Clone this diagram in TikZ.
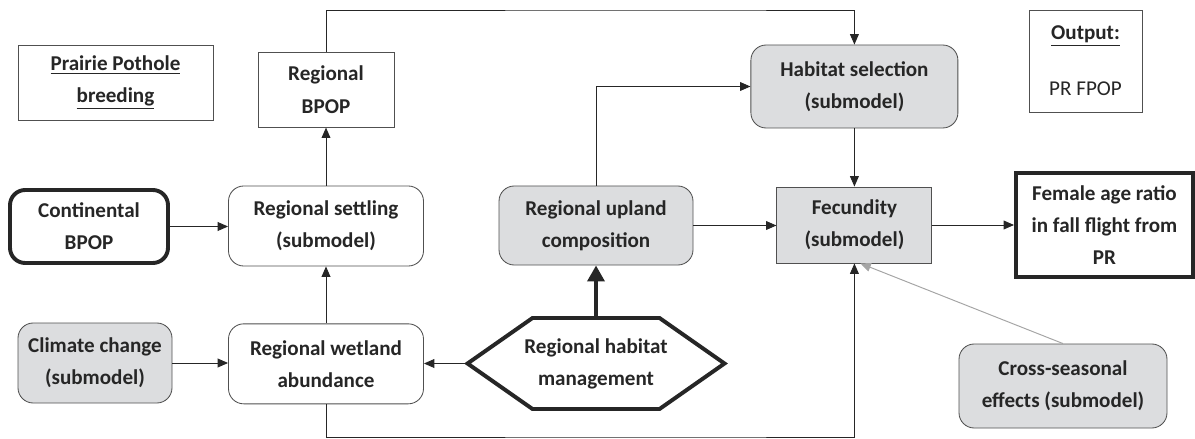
\documentclass[tikz,border=0pt]{standalone}
\usepackage{fontspec}
\setmainfont{Carlito}
\usepackage{tikz}
\usetikzlibrary{arrows.meta, positioning, calc}
\usepackage{xcolor}
\definecolor{boxgray}{RGB}{220,221,223}
\definecolor{edgegray}{RGB}{80,80,80}
\definecolor{inkgray}{RGB}{38,38,38}
\definecolor{crossgray}{RGB}{165,165,165}

\begin{document}
\begin{tikzpicture}[
    font=\fontsize{15}{22.8}\selectfont\bfseries,
    text=inkgray,
    plain/.style={rectangle, draw=edgegray, line width=0.6pt, fill=white, align=center, inner sep=1pt},
    soft/.style={plain, rounded corners=0.38cm},
    submodel/.style={soft, fill=boxgray},
    heavy/.style={rectangle, draw=black!85, line width=2.8pt, align=center, inner sep=1pt},
    arrow/.style={-{Triangle[length=2.6mm, width=2.2mm]}, line width=0.7pt, black!85},
    bigarrow/.style={-{Triangle[length=4mm, width=4.2mm]}, line width=2.8pt, black!85},
    grayarrow/.style={-{Triangle[length=2.6mm, width=2.2mm]}, line width=0.7pt, crossgray},
]
    \useasboundingbox (0,0) rectangle (29.875,-10.975);

    % Labels
    \node[plain, minimum width=4.875cm, minimum height=1.875cm] (pp) at (2.8875,-2.0625)
        {\underline{Prairie Pothole}\\\underline{breeding}};
    \node[plain, minimum width=2.825cm, minimum height=2.55cm] (output) at (27.1375,-1.525)
        {\underline{Output:}\\[0.6cm]\mdseries PR FPOP};

    % Settling column
    \node[soft, minimum width=4.875cm, minimum height=2cm] (settle) at (8.15,-5.65)
        {Regional settling\\(submodel)};
    \node[plain, above=1.45cm of settle, minimum width=3.4cm, minimum height=1.875cm] (rbpop)
        {Regional\\BPOP};
    \node[soft, below=1.425cm of settle, minimum width=4.875cm, minimum height=2cm] (wetland)
        {Regional wetland\\abundance};

    % Left inputs
    \node[heavy, rounded corners=0.38cm, minimum width=3.95cm, minimum height=1.825cm] (cont) at (2.225,-5.6625)
        {Continental\\BPOP};
    \node[submodel, minimum width=3.85cm, minimum height=2cm] (climate) at (2.375,-9.075)
        {Climate change\\(submodel)};

    % Habitat
    \node[submodel, minimum width=4.85cm, minimum height=1.975cm] (upland) at (14.9,-5.6375)
        {Regional upland\\composition};
    \node[align=center, inner sep=0pt, outer sep=0pt, minimum width=6.425cm, minimum height=2.275cm] (manage) at (14.9,-9.0875)
        {Regional habitat\\management};
    \draw[black!85, line width=2.8pt, line join=miter]
        (manage.west) -- ($(manage.north west)+(1.625,0)$) -- ($(manage.north east)+(-1.625,0)$)
        -- (manage.east) -- ($(manage.south east)+(-1.625,0)$) -- ($(manage.south west)+(1.625,0)$) -- cycle;

    % Reproduction
    \node[submodel, minimum width=5.175cm, minimum height=2.075cm] (habsel) at (21.36,-2.1625)
        {Habitat selection\\(submodel)};
    \node[plain, fill=boxgray, minimum width=3.875cm, minimum height=1.9cm] (fec) at (21.36,-5.625)
        {Fecundity\\(submodel)};
    \node[heavy, minimum width=4.425cm, minimum height=2.6cm] (female) at (27.6125,-5.625)
        {Female age ratio\\in fall flight from\\PR};
    \node[submodel, minimum width=5.2cm, minimum height=2.1cm] (cross) at (26.575,-9.65)
        {Cross-seasonal\\effects (submodel)};

    % Arrows
    \draw[arrow] (rbpop.north) |- (17,-0.25) -| (habsel.north);
    \draw[arrow] (upland.north) |- (habsel.west);
    \draw[arrow] (habsel) -- (fec);
    \draw[arrow] (cont.east) -- (cont.east -| settle.west);
    \draw[arrow] (settle) -- (rbpop);
    \draw[arrow] (wetland) -- (settle);
    \draw[arrow] (climate.east) -- (climate.east -| wetland.west);
    \draw[arrow] (manage.west) -- (manage.west -| wetland.east);
    \draw[bigarrow] (manage.north) -- (upland.south);
    \draw[arrow] (upland.east) -- (upland.east -| fec.west);
    \draw[arrow] (fec.east) -- (female.west);
    \draw[arrow] (wetland.south) |- (17,-10.925) -| (fec.south);
    \draw[grayarrow] (cross.north) -- ([xshift=0.15cm]fec.south);

\end{tikzpicture}
\end{document}
